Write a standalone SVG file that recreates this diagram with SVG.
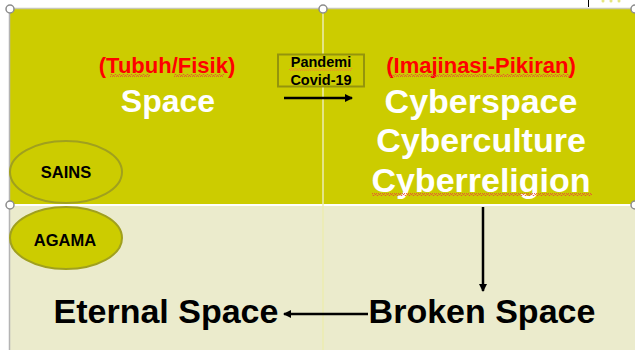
<svg xmlns="http://www.w3.org/2000/svg" width="635" height="350" viewBox="0 0 635 350">
  <style>
    .t { font-family: "Liberation Sans", Arial, sans-serif; font-weight: bold; text-anchor: middle; }
    .red { fill: #FF0000; font-size: 22px; }
    .white { fill: #FFFFFF; font-size: 34px; }
    .black { fill: #000000; font-size: 34px; }
    .small { fill: #000000; font-size: 14.5px; }
    .oval { fill: #CCCC00; stroke: #A0A01E; stroke-width: 2; }
    .oval-label { fill: #000000; font-size: 16.5px; }
    .conn { stroke: #000000; stroke-width: 2.5; fill: none; }
    .handle { fill: #FFFFFF; stroke: #8C8C8C; stroke-width: 1.5; }
  </style>
  <defs>
    <marker id="arrow" markerWidth="9" markerHeight="9" refX="7" refY="4.5" orient="auto" markerUnits="userSpaceOnUse">
      <path d="M0,0.5 L8,4.5 L0,8.5 Z" fill="#000000"/>
    </marker>
    <pattern id="squiggle-red" width="4" height="3" patternUnits="userSpaceOnUse">
      <polyline points="0,2.5 1,0.5 2,0.5 3,2.5 4,2.5" fill="none" stroke="#E8443A" stroke-width="0.8"/>
    </pattern>
    <pattern id="squiggle-orange" width="4" height="3" patternUnits="userSpaceOnUse">
      <polyline points="0,2.5 1,0.5 2,0.5 3,2.5 4,2.5" fill="none" stroke="#F08030" stroke-width="0.8"/>
    </pattern>
  </defs>

  <!-- page background -->
  <rect x="0" y="0" width="635" height="350" fill="#FFFFFF"/>

  <!-- upper band and lower band -->
  <rect x="10" y="9" width="625" height="195" fill="#CCCC00"/>
  <rect x="10" y="206" width="625" height="144" fill="#EBEBCC"/>
  <line x1="10" y1="205" x2="635" y2="205" stroke="#FFFFFF" stroke-width="2"/>
  <line x1="10" y1="8.5" x2="635" y2="8.5" stroke="#C8C8B4" stroke-width="1.5"/>
  <line x1="9.5" y1="9" x2="9.5" y2="350" stroke="#B4B4B4" stroke-width="1.5"/>
  <line x1="323" y1="9" x2="323" y2="350" stroke="#EDEDB0" stroke-width="1.5"/>

  <!-- small box at top right -->
  <rect x="588" y="0" width="47" height="7" fill="#FFFFFF"/>
  <line x1="588.5" y1="0" x2="588.5" y2="7" stroke="#000000" stroke-width="1"/>
  <circle cx="603" cy="1" r="1.5" fill="#E6E680"/>
  <circle cx="611" cy="1" r="1.5" fill="#E6E680"/>
  <circle cx="619" cy="1" r="1.5" fill="#E6E680"/>

  <!-- selection handles -->
  <circle class="handle" cx="10" cy="9" r="4"/>
  <circle class="handle" cx="323" cy="9" r="4"/>
  <circle class="handle" cx="635" cy="9" r="4"/>
  <circle class="handle" cx="10" cy="205" r="4"/>
  <circle class="handle" cx="635" cy="205" r="4"/>

  <!-- connectors -->
  <g id="connectors">
    <line class="conn" x1="284" y1="98" x2="352" y2="98" marker-end="url(#arrow)"/>
    <line class="conn" x1="483" y1="207" x2="483" y2="291" marker-end="url(#arrow)"/>
    <line class="conn" x1="368" y1="314" x2="284" y2="314" marker-end="url(#arrow)"/>
  </g>

  <g id="node-space">
    <text class="t red" x="167" y="73">(Tubuh/Fisik)</text>
    <rect x="110" y="74" width="40" height="3" fill="url(#squiggle-red)"/>
    <rect x="174" y="74" width="50" height="3" fill="url(#squiggle-red)"/>
    <text class="t white" x="168" y="112" style="font-size:32px">Space</text>
  </g>

  <g id="node-pandemi">
    <rect x="278" y="54.5" width="86" height="32" fill="#CCCC00" stroke="#94940C" stroke-width="2"/>
    <text class="t small" x="321" y="67">Pandemi</text>
    <rect x="289" y="68" width="63" height="3" fill="url(#squiggle-orange)"/>
    <text class="t small" x="321" y="85">Covid-19</text>
  </g>

  <g id="node-cyber">
    <text class="t red" x="481" y="73">(Imajinasi-Pikiran)</text>
    <rect x="390" y="74" width="180" height="3" fill="url(#squiggle-red)"/>
    <text class="t white" x="481" y="113">Cyberspace</text>
    <text class="t white" x="481" y="152">Cyberculture</text>
    <text class="t white" x="481" y="192">Cyberreligion</text>
    <rect x="372" y="193" width="220" height="3" fill="url(#squiggle-red)"/>
  </g>

  <g id="node-sains">
    <ellipse class="oval" cx="66" cy="172" rx="56" ry="31"/>
    <text class="t oval-label" x="66" y="177.5">SAINS</text>
  </g>

  <g id="node-agama">
    <ellipse class="oval" cx="66" cy="238" rx="56" ry="31"/>
    <text class="t oval-label" x="65" y="246">AGAMA</text>
  </g>

  <g id="node-broken">
    <text class="t black" x="482" y="323">Broken Space</text>
  </g>

  <g id="node-eternal">
    <text class="t black" x="166" y="323">Eternal Space</text>
  </g>
</svg>
